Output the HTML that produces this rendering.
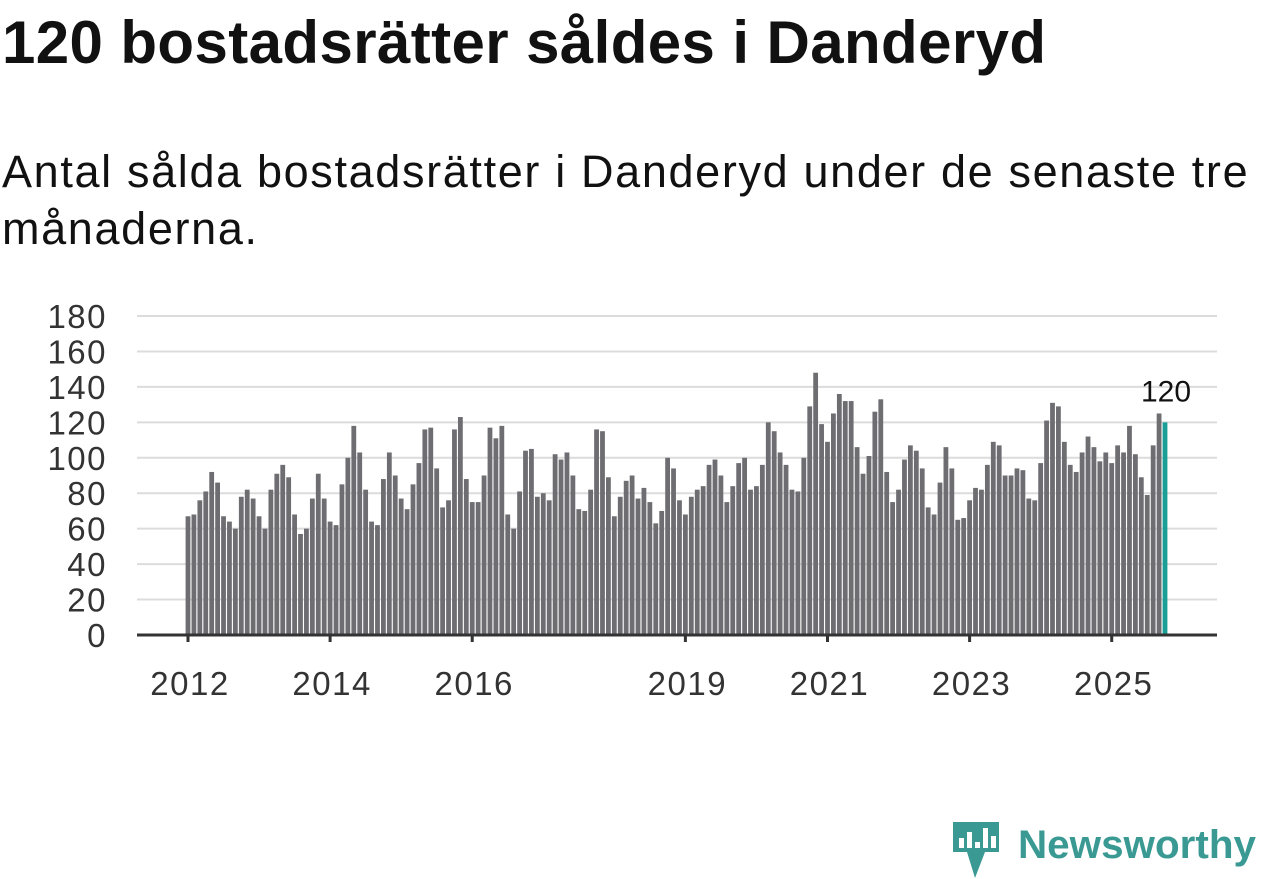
<!DOCTYPE html>
<html><head><meta charset="utf-8"><style>
body{margin:0;width:1262px;height:879px;background:#fff;font-family:"Liberation Sans","DejaVu Sans",sans-serif;overflow:hidden;position:relative}
h1{position:absolute;left:2px;top:8px;margin:0;font-size:60px;font-weight:bold;color:#111;letter-spacing:0.4px;white-space:nowrap}
p{position:absolute;left:2px;top:143px;margin:0;font-size:45px;line-height:57px;letter-spacing:1.65px;color:#111;width:1258px}
svg{position:absolute;left:0;top:0}
</style></head><body>
<h1>120 bostadsrätter såldes i Danderyd</h1>
<p>Antal sålda bostadsrätter i Danderyd under de senaste tre månaderna.</p>
<svg id="c" width="1262" height="879"></svg>
<script>
const values=[67,68,76,81,92,86,67,64,60,78,82,77,
67,60,82,91,96,89,68,57,60,77,91,77,
64,62,85,100,118,103,82,64,62,88,103,90,
77,71,85,97,116,117,94,72,76,116,123,88,
75,75,90,117,111,118,68,60,81,104,105,78,
80,76,102,99,103,90,71,70,82,116,115,89,
67,78,87,90,77,83,75,63,70,100,94,76,
68,78,82,84,96,99,90,75,84,97,100,82,
84,96,120,115,103,96,82,81,100,129,148,119,
109,125,136,132,132,106,91,101,126,133,92,75,
82,99,107,104,94,72,68,86,106,94,65,66,
76,83,82,96,109,107,90,90,94,93,77,76,
97,121,131,129,109,96,92,103,112,106,98,103,
97,107,103,118,102,89,79,107,125,120];
const yTicks=[0,20,40,60,80,100,120,140,160,180];
const xTickLabels=["2012","2014","2016","2019","2021","2023","2025"];
const xTickYears=[2012,2014,2016,2019,2021,2023,2025];
const NS="http://www.w3.org/2000/svg";
const svg=document.getElementById('c');
const y0=635,yTop=316,yMax=180,x0=188,step=(1165-188)/(values.length-1);
const y=v=>y0-(v/yMax)*(y0-yTop);
const x=i=>x0+i*step;
function mk(t,a){const e=document.createElementNS(NS,t);for(const k in a)e.setAttribute(k,a[k]);svg.appendChild(e);return e;}
yTicks.forEach(t=>{
 if(t>0){const g=mk('line',{x1:137,x2:1217,y1:y(t),y2:y(t),stroke:'#dcdcdc','stroke-width':2});
 
 }
 const l=mk('text',{x:107,y:y(t)+12,'text-anchor':'end','font-size':33,'letter-spacing':1.5,fill:'#333'});l.textContent=t;
 
 
});
values.forEach((v,i)=>{
 const last=i===values.length-1;
 const r=mk('rect',{x:x(i)-2.4,y:y(v),width:4.8,height:y0-y(v),fill:last?'#1a9e95':'#6e6d72'});
 
 
});
const ax=mk('line',{x1:137,x2:1217,y1:y0,y2:y0,stroke:'#333','stroke-width':3});


xTickYears.forEach((yr,k)=>{
 const xi=x((yr-2012)*12);
 const tk=mk('line',{x1:xi,x2:xi,y1:y0,y2:y0+7,stroke:'#333','stroke-width':3});
 
 
 const t=mk('text',{x:xi+2,y:695,'text-anchor':'middle','font-size':33,'letter-spacing':1.5,fill:'#333'});t.textContent=xTickLabels[k];
 
 
});
const li=values.length-1;
const lab=mk('text',{x:x(li)+1,y:y(values[li])-21,'text-anchor':'middle','font-size':30,fill:'#111'});lab.textContent=values[li];


</script>
<svg width="1262" height="879">
<path d="M953 822h46v30h-14l-10 26-8-26h-14z" fill="#3a9a93"/>
<rect x="959" y="838" width="5" height="10" fill="#fff"/><rect x="967" y="832" width="5" height="16" fill="#fff"/><rect x="975" y="842" width="5" height="6" fill="#fff"/><rect x="983" y="828" width="5" height="20" fill="#fff"/><rect x="991" y="836" width="5" height="12" fill="#fff"/>
<text x="1018" y="858" font-size="40" font-weight="bold" textLength="238" lengthAdjust="spacingAndGlyphs" fill="#3a9a93" font-family="Liberation Sans, sans-serif">Newsworthy</text>
</svg>
</body></html>
